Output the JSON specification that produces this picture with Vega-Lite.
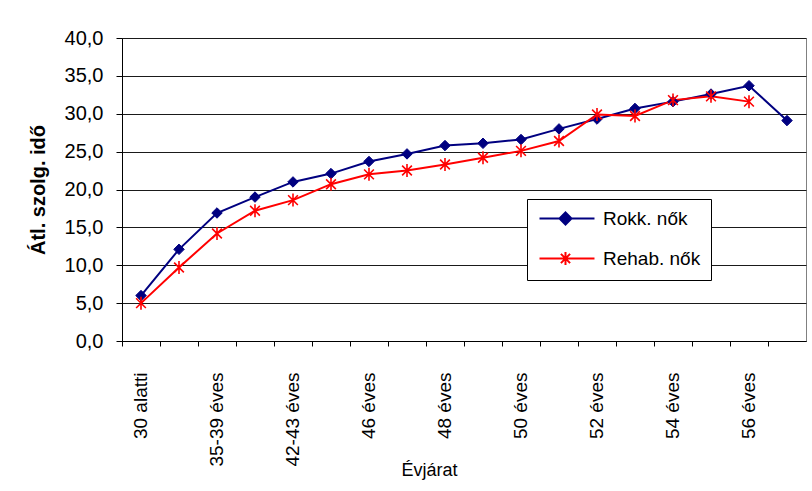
{
  "$schema": "https://vega.github.io/schema/vega-lite/v6.json",
  "width": 684,
  "height": 303,
  "autosize": {"type": "none"},
  "padding": {"left": 122, "top": 38, "right": 6, "bottom": 150},
  "background": "white",
  "config": {
    "view": {"stroke": "#808080", "strokeWidth": 1},
    "font": "Liberation Sans"
  },
  "data": {
    "values": [
      {"ev": "30 alatti", "series": "Rokk. nők", "v": 6.0},
      {"ev": "30-34 éves", "series": "Rokk. nők", "v": 12.1},
      {"ev": "35-39 éves", "series": "Rokk. nők", "v": 16.9},
      {"ev": "40-41 éves", "series": "Rokk. nők", "v": 19.0},
      {"ev": "42-43 éves", "series": "Rokk. nők", "v": 21.0},
      {"ev": "44-45 éves", "series": "Rokk. nők", "v": 22.1},
      {"ev": "46 éves", "series": "Rokk. nők", "v": 23.7},
      {"ev": "47 éves", "series": "Rokk. nők", "v": 24.7},
      {"ev": "48 éves", "series": "Rokk. nők", "v": 25.8},
      {"ev": "49 éves", "series": "Rokk. nők", "v": 26.1},
      {"ev": "50 éves", "series": "Rokk. nők", "v": 26.6},
      {"ev": "51 éves", "series": "Rokk. nők", "v": 28.0},
      {"ev": "52 éves", "series": "Rokk. nők", "v": 29.3},
      {"ev": "53 éves", "series": "Rokk. nők", "v": 30.7},
      {"ev": "54 éves", "series": "Rokk. nők", "v": 31.6},
      {"ev": "55 éves", "series": "Rokk. nők", "v": 32.6},
      {"ev": "56 éves", "series": "Rokk. nők", "v": 33.7},
      {"ev": "57 éves", "series": "Rokk. nők", "v": 29.1},
      {"ev": "30 alatti", "series": "Rehab. nők", "v": 5.0},
      {"ev": "30-34 éves", "series": "Rehab. nők", "v": 9.7},
      {"ev": "35-39 éves", "series": "Rehab. nők", "v": 14.2},
      {"ev": "40-41 éves", "series": "Rehab. nők", "v": 17.2},
      {"ev": "42-43 éves", "series": "Rehab. nők", "v": 18.6},
      {"ev": "44-45 éves", "series": "Rehab. nők", "v": 20.7},
      {"ev": "46 éves", "series": "Rehab. nők", "v": 22.0},
      {"ev": "47 éves", "series": "Rehab. nők", "v": 22.5},
      {"ev": "48 éves", "series": "Rehab. nők", "v": 23.3},
      {"ev": "49 éves", "series": "Rehab. nők", "v": 24.2},
      {"ev": "50 éves", "series": "Rehab. nők", "v": 25.1},
      {"ev": "51 éves", "series": "Rehab. nők", "v": 26.4},
      {"ev": "52 éves", "series": "Rehab. nők", "v": 29.9},
      {"ev": "53 éves", "series": "Rehab. nők", "v": 29.7},
      {"ev": "54 éves", "series": "Rehab. nők", "v": 31.8},
      {"ev": "55 éves", "series": "Rehab. nők", "v": 32.3},
      {"ev": "56 éves", "series": "Rehab. nők", "v": 31.6}
    ]
  },
  "encoding": {
    "x": {
      "field": "ev",
      "type": "nominal",
      "sort": null,
      "scale": {"type": "band", "paddingInner": 0, "paddingOuter": 0},
      "axis": {
        "title": "Évjárat",
        "titleFontSize": 18,
        "titleFontWeight": "normal",
        "titleColor": "black",
        "titleX": 307,
        "titleY": 129,
        "titleBaseline": "middle",
        "titleAlign": "center",
        "labelAngle": 270,
        "labelAlign": "right",
        "labelBaseline": "middle",
        "labelFontSize": 19,
        "labelColor": "black",
        "labelPadding": 26,
        "labelOverlap": false,
        "labelBound": false,
        "tickSize": 5,
        "tickColor": "black",
        "domainColor": "black",
        "bandPosition": 0,
        "grid": false,
        "labelExpr": "indexof(['30 alatti','35-39 éves','42-43 éves','46 éves','48 éves','50 éves','52 éves','54 éves','56 éves'], datum.value) >= 0 ? datum.value : ''"
      }
    },
    "y": {
      "field": "v",
      "type": "quantitative",
      "scale": {"domain": [0, 40], "nice": false, "zero": true},
      "axis": {
        "title": "Átl. szolg. idő",
        "titleFontSize": 20,
        "titleFontWeight": "bold",
        "titleColor": "black",
        "titlePadding": 16,
        "values": [0, 5, 10, 15, 20, 25, 30, 35, 40],
        "labelExpr": "replace(format(datum.value, '.1f'), '.', ',')",
        "labelFontSize": 20,
        "labelColor": "black",
        "labelPadding": 13,
        "tickSize": 6,
        "tickColor": "black",
        "domainColor": "black",
        "grid": true,
        "gridColor": "#1a1a1a",
        "gridWidth": 1
      }
    }
  },
  "layer": [
    {
      "mark": {"type": "line", "strokeWidth": 2},
      "encoding": {
        "color": {
          "field": "series",
          "type": "nominal",
          "sort": null,
          "scale": {"domain": ["Rokk. nők", "Rehab. nők"], "range": ["#000080", "#FF0000"]},
          "legend": {
            "title": null,
            "orient": "none",
            "legendX": 405,
            "legendY": 161,
            "direction": "vertical",
            "strokeColor": "black",
            "fillColor": "white",
            "padding": 10,
            "labelFontSize": 19,
            "labelColor": "black",
            "symbolSize": 196,
            "symbolStrokeWidth": 2,
            "labelOffset": 47,
            "rowPadding": 18,
            "encode": {
              "symbols": {
                "update": {
                  "shape": {"signal": "datum.value === 'Rokk. nők' ? 'M-1,0L6.857,0M2.714,-0.857L3.571,0L2.714,0.857L1.857,0Z' : 'M-1,0L6.857,0M2.714,-0.929L2.714,0.929M2.057,-0.657L3.371,0.657M2.057,0.657L3.371,-0.657'"},
                  "fill": {"signal": "datum.value === 'Rokk. nők' ? '#000080' : '#FF0000'"},
                  "stroke": {"signal": "datum.value === 'Rokk. nők' ? '#000080' : '#FF0000'"},
                  "strokeWidth": {"value": 2},
                  "opacity": {"value": 1}
                }
              }
            }
          }
        }
      }
    },
    {
      "transform": [{"filter": "datum.series === 'Rokk. nők'"}],
      "mark": {"type": "point", "shape": "diamond", "filled": true, "color": "#000080", "stroke": "#000080", "strokeWidth": 1, "size": 110, "opacity": 1}
    },
    {
      "transform": [{"filter": "datum.series === 'Rehab. nők'"}],
      "mark": {"type": "point", "shape": "M0,-1L0,1M-0.75,-0.75L0.75,0.75M-0.75,0.75L0.75,-0.75", "filled": false, "color": "#FF0000", "stroke": "#FF0000", "strokeWidth": 1.6, "size": 169, "opacity": 1}
    }
  ]
}
